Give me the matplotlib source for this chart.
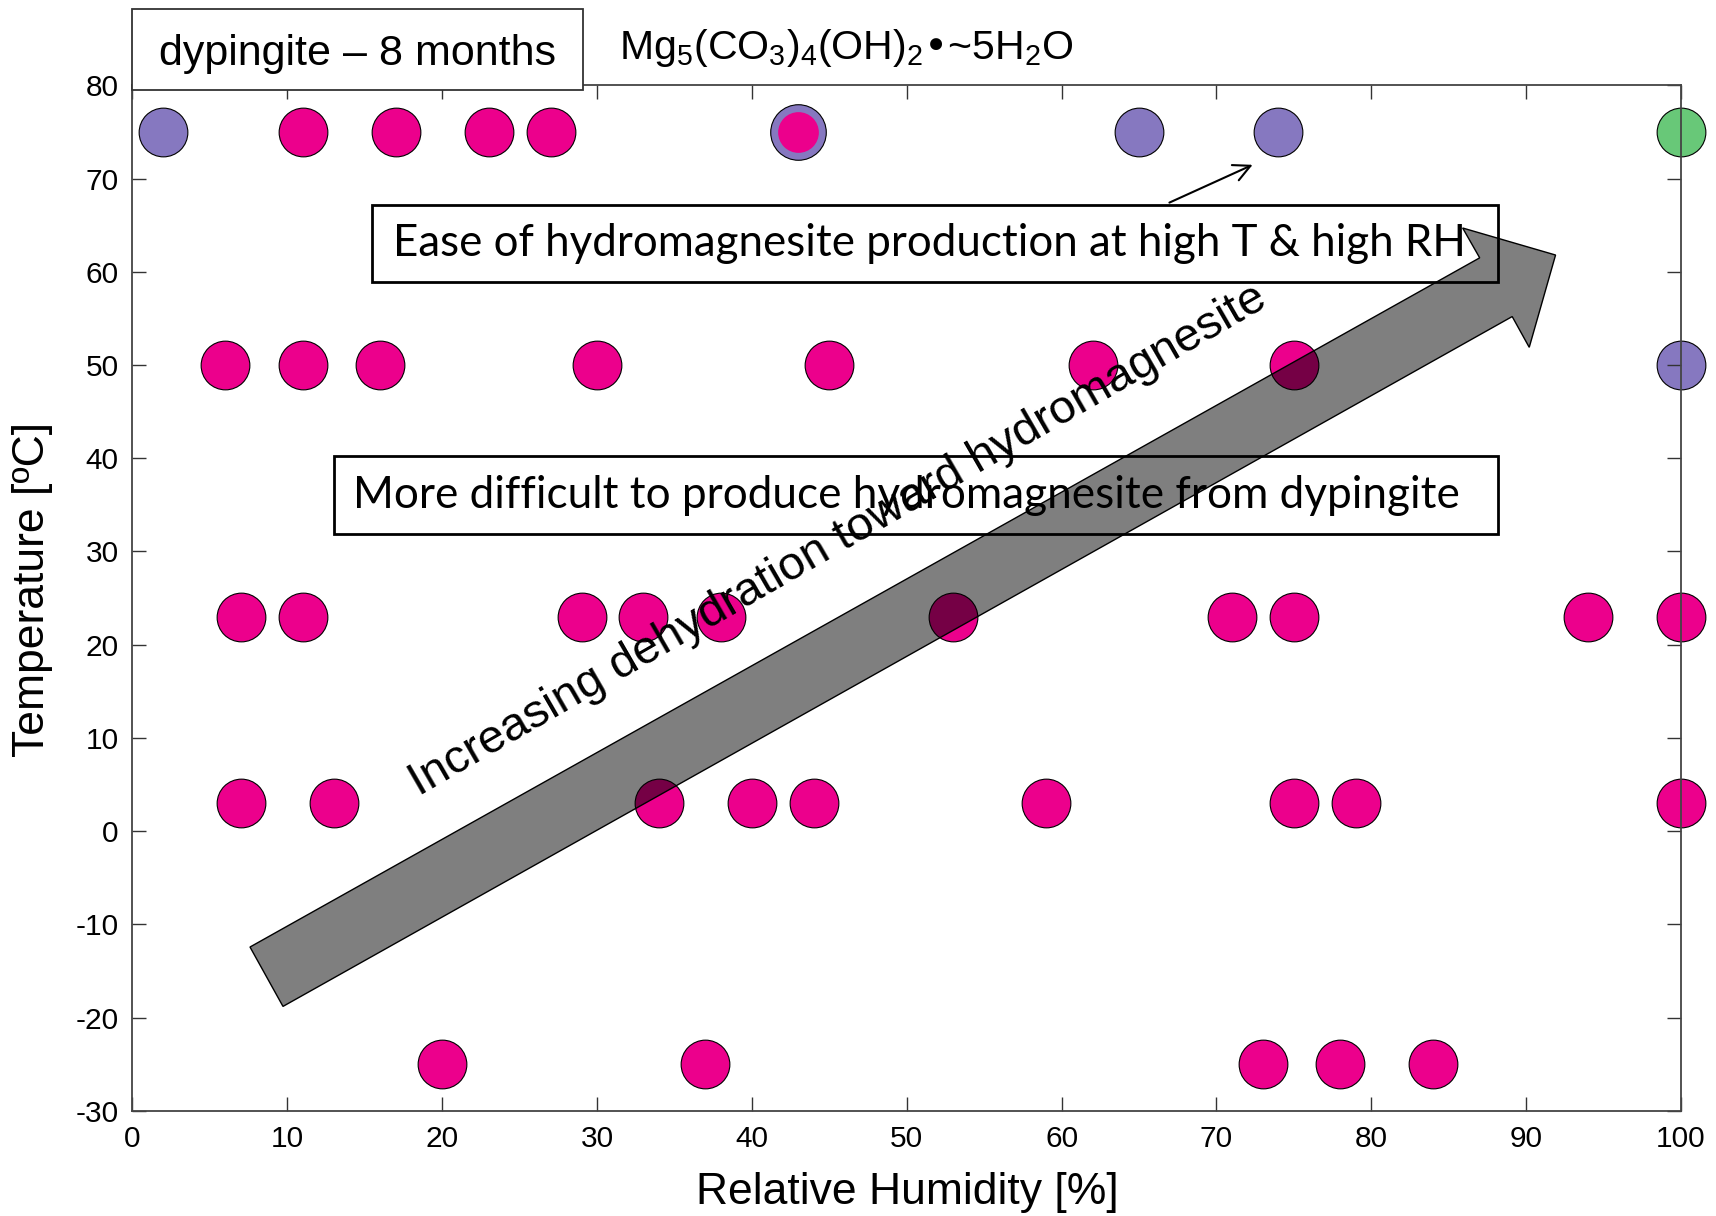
import matplotlib
matplotlib.use('Agg')
import matplotlib.pyplot as plt
from matplotlib.patches import Polygon, Rectangle

plt.rcParams['font.family'] = ['Liberation Sans', 'DejaVu Sans']
plt.rcParams['mathtext.default'] = 'regular'
plt.rcParams['axes.unicode_minus'] = False

# Observed phases: relative humidity [%] and temperature [oC]
dyp_rh = [11, 17, 23, 27,
          6, 11, 16, 30, 45, 62, 75,
          7, 11, 29, 33, 38, 53, 71, 75, 94, 100,
          7, 13, 34, 40, 44, 59, 75, 79, 100,
          20, 37, 73, 78, 84]
dyp_t = [75, 75, 75, 75,
         50, 50, 50, 50, 50, 50, 50,
         23, 23, 23, 23, 23, 23, 23, 23, 23, 23,
         3, 3, 3, 3, 3, 3, 3, 3, 3,
         -25, -25, -25, -25, -25]
hmg_rh = [2, 65, 74, 100]
hmg_t = [75, 75, 75, 50]
other_rh = [100]
other_t = [75]
mixed_rh = [43]
mixed_t = [75]

magenta = '#EC008C'
purple = '#8678C0'
green = '#68C878'
msize = 1230

fig = plt.figure(figsize=(17.16, 12.16), dpi=100)
ax = fig.add_axes([0.0772, 0.0865, 0.9024, 0.8433])

ax.scatter(dyp_rh, dyp_t, s=msize, c=magenta, edgecolors='black', linewidths=0.8, clip_on=False, zorder=1)
ax.scatter(hmg_rh, hmg_t, s=msize, c=purple, edgecolors='black', linewidths=0.8, clip_on=False, zorder=1)
ax.scatter(other_rh, other_t, s=msize, c=green, edgecolors='black', linewidths=0.8, clip_on=False, zorder=1)
ax.scatter(mixed_rh, mixed_t, s=1600, c=purple, edgecolors='black', linewidths=0.8, clip_on=False, zorder=1)
ax.scatter(mixed_rh, mixed_t, s=860, c=magenta, linewidths=0, clip_on=False, zorder=1.1)

ax.set_xlim(0, 100)
ax.set_ylim(-30, 80)
ax.set_xticks(range(0, 101, 10))
ax.set_yticks(range(-30, 81, 10))
ax.tick_params(direction='in', length=10, width=1, top=True, right=True,
               labelsize=21.5, pad=10, color='#333333')
for sp in ax.spines.values():
    sp.set_linewidth(1.3)
    sp.set_color('#444444')

# text boxes
ax.add_patch(Rectangle((15.47, 58.9), 72.7, 8.27, facecolor='white', edgecolor='black', lw=2, zorder=3))
ax.text(16.8, 63.0, 'Ease of hydromagnesite production at high T & high RH', fontsize=31.6,
        family='Lato', ha='left', va='center', zorder=3.1)
ax.annotate('', xy=(72.5, 71.6), xytext=(66.8, 67.3),
            arrowprops=dict(arrowstyle='->', lw=1.5, color='black', mutation_scale=30), zorder=3)

ax.add_patch(Rectangle((13.0, 31.9), 75.2, 8.35, facecolor='white', edgecolor='black', lw=2, zorder=3))
ax.text(14.25, 36.0, 'More difficult to produce hydromagnesite from dypingite', fontsize=31.8,
        family='Lato', ha='left', va='center', zorder=3.1)

# big translucent arrow
arrow_pts = [(7.59, -12.43), (87.0, 61.5), (85.9, 64.7), (91.9, 61.8),
             (90.2, 51.9), (89.1, 55.2), (9.72, -18.8)]
ax.add_patch(Polygon(arrow_pts, closed=True, facecolor=(0, 0, 0, 0.5), edgecolor='black',
                     lw=1, clip_on=False, zorder=4))
ax.text(45.6, 31.2, 'Increasing dehydration toward hydromagnesite', fontsize=34,
        rotation=30, rotation_mode='anchor', ha='center', va='center', zorder=5)

# title boxes above the axes
ax.add_patch(Rectangle((0, 0.9955), 0.291, 0.079, transform=ax.transAxes, facecolor='white',
                       edgecolor='#333333', lw=1.3, clip_on=False, zorder=6))
ax.text(0.1455, 1.031, 'dypingite – 8 months', transform=ax.transAxes, fontsize=31,
        ha='center', va='center', zorder=7)
ax.text(0.314, 1.0365, r'Mg$_5$(CO$_3$)$_4$(OH)$_2$•~5H$_2$O', transform=ax.transAxes,
        fontsize=29.5, ha='left', va='center')

fig.text(0.0192, 0.515, 'Temperature [ºC]', rotation=90, fontsize=32, ha='center', va='center')
fig.text(0.5285, 0.019, 'Relative Humidity [%]', fontsize=32, ha='center', va='center')

fig.savefig('out.png', dpi=100)
